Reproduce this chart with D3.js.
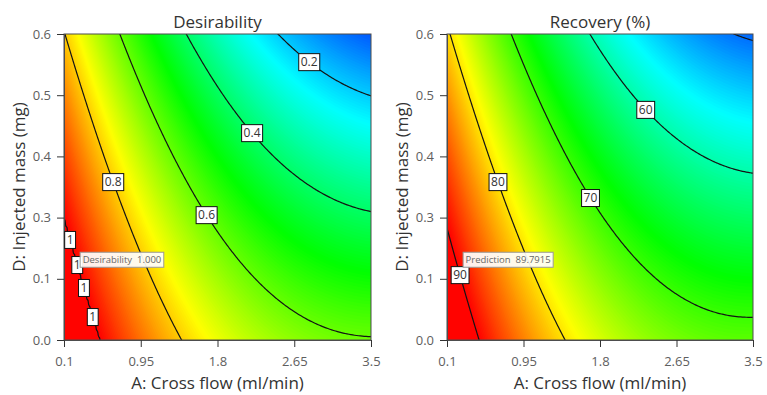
<!DOCTYPE html>
<html>
<head>
<meta charset="utf-8">
<script src="https://cdn.jsdelivr.net/npm/d3@7"></script>
<style>
  html, body { margin: 0; padding: 0; background: #fff; }
  svg { display: block; font-family: "Open Sans", "DejaVu Sans", sans-serif; }
</style>
</head>
<body>
<svg id="chart" width="767" height="395"></svg>
<script>
// ---- data ----------------------------------------------------------------
// Factor A (cross flow, ml/min) axis ticks
const crossFlowTicks = [0.1, 0.95, 1.8, 2.65, 3.5];
// Factor D (injected mass, mg) axis labels, bottom to top
const massTickLabels = ["0.0", "0.1", "0.3", "0.4", "0.5", "0.6"];

// Quadratic response-surface models in coded units (-1..+1):
// [intercept, A, D, AD, A^2, D^2]
const desirabilityCoef = [0.5408, -0.3054, -0.2061, -0.0529, 0.1234, -0.0127];
const recoveryCoef     = [68.49, -13.57, -9.045, -1.96, 6.075, -0.5025];

// Contour levels drawn on each surface
const desirabilityLevels = [0.2, 0.4, 0.6, 0.8, 1];
const recoveryLevels     = [50, 60, 70, 80, 90];

// Optimum (flag) point in coded units [A, D] and its read-outs
const optimumCoded = [-0.96, -0.42];
const desirabilityFlag = ["Desirability", "1.000"];
const recoveryFlag     = ["Prediction", "89.7915"];

// ---- layout --------------------------------------------------------------
const plotTop = 34, plotH = 306;
const rampColors = ["#0000ff", "#00ffff", "#00ff00", "#ffff00", "#ff0000"];

const panels = [
  {
    id: "des", title: "Desirability", left: 64, width: 307,
    coef: desirabilityCoef, levels: desirabilityLevels, cap: 1,
    colorDomain: [0, 1], flag: desirabilityFlag,
    fmt: v => (v === 1 ? "1" : v.toFixed(1)),
    // label placement: level and fractional height along the D axis
    labelSpots: [[0.2, 0.908], [0.4, 0.676], [0.6, 0.408], [0.8, 0.516],
                 [1, 0.327], [1, 0.245], [1, 0.170], [1, 0.075]]
  },
  {
    id: "rec", title: "Recovery (%)", left: 447, width: 306,
    coef: recoveryCoef, levels: recoveryLevels, cap: null,
    colorDomain: [45, 90], flag: recoveryFlag,
    fmt: v => String(v),
    labelSpots: [[60, 0.752], [70, 0.464], [80, 0.516], [90, 0.212]]
  }
];

const svg = d3.select("#chart");
const defs = svg.append("defs");

function quad(c, a, d) {
  return c[0] + c[1] * a + c[2] * d + c[3] * a * d + c[4] * a * a + c[5] * d * d;
}

panels.forEach(p => {
  const W = p.width, H = plotH;
  const g = svg.append("g").attr("transform", `translate(${p.left},${plotTop})`);

  const x  = d3.scaleLinear().domain([0.1, 3.5]).range([0, W]);
  const xc = d3.scaleLinear().domain([-1, 1]).range([0, W]);
  const yc = d3.scaleLinear().domain([-1, 1]).range([H, 0]);
  const yAxisScale = d3.scalePoint().domain(massTickLabels).range([H, 0]);

  const raw = (a, d) => quad(p.coef, a, d);
  const model = (a, d) => { const v = raw(a, d); return p.cap != null ? Math.min(v, p.cap) : v; };

  // sample the surface on a grid that runs a little past the plot frame
  const n = 176, ext = 1.1;
  const values = new Float64Array(n * n);
  for (let j = 0; j < n; j++) {
    const d = ext - 2 * ext * (j + 0.5) / n;
    for (let i = 0; i < n; i++) {
      const a = -ext + 2 * ext * (i + 0.5) / n;
      values[j * n + i] = model(a, d);
    }
  }
  const proj = d3.geoTransform({
    point(gx, gy) { this.stream.point(xc(-ext + 2 * ext * gx / n), yc(ext - 2 * ext * gy / n)); }
  });
  const path = d3.geoPath(proj);

  const clipId = "clip-" + p.id;
  defs.append("clipPath").attr("id", clipId)
    .append("rect").attr("width", W).attr("height", H);

  const [lo, hi] = p.colorDomain;
  const color = d3.scaleLinear()
    .domain(d3.range(5).map(k => lo + k * (hi - lo) / 4))
    .range(rampColors).clamp(true);

  // filled colour bands
  const N = 200, step = (hi - lo) / N;
  const thresholds = d3.range(N).map(k => lo + k * step);
  const bands = d3.contours().size([n, n]).thresholds(thresholds)(values);
  const area = g.append("g").attr("clip-path", `url(#${clipId})`);
  area.append("rect").attr("width", W).attr("height", H).attr("fill", color(lo));
  area.selectAll("path.band").data(bands).join("path")
    .attr("class", "band")
    .attr("d", path)
    .attr("fill", d => color(d.value + step / 2));

  // contour lines
  const lineLevels = p.levels.map(l => (p.cap != null && l >= p.cap ? l - 1e-3 : l));
  const lines = d3.contours().size([n, n]).thresholds(lineLevels)(values);
  area.selectAll("path.iso").data(lines).join("path")
    .attr("class", "iso")
    .attr("d", path)
    .attr("fill", "none")
    .attr("stroke", "#141414")
    .attr("stroke-width", 1.2);

  // frame
  g.append("rect").attr("width", W).attr("height", H)
    .attr("fill", "none").attr("stroke", "#4d4d4d").attr("stroke-width", 1);

  // axes
  const xAxis = g.append("g").attr("transform", `translate(0,${H})`)
    .call(d3.axisBottom(x).tickValues(crossFlowTicks).tickFormat(d => String(d))
      .tickSize(7).tickSizeOuter(0).tickPadding(10));
  const yAxis = g.append("g")
    .call(d3.axisLeft(yAxisScale).tickSize(7).tickSizeOuter(0).tickPadding(6));
  [xAxis, yAxis].forEach(ax => {
    ax.select(".domain").attr("stroke", "#4d4d4d");
    ax.selectAll(".tick line").attr("stroke", "#333");
    ax.selectAll(".tick text").attr("fill", "#5e5e5e").style("font-size", "13px")
      .style("font-family", '"Open Sans", sans-serif');
  });

  // titles
  g.append("text").attr("x", W / 2).attr("y", -6.5).attr("text-anchor", "middle")
    .attr("fill", "#333").style("font-size", "17px").text(p.title);
  g.append("text").attr("x", W / 2).attr("y", H + 49).attr("text-anchor", "middle")
    .attr("fill", "#333").style("font-size", "17px").text("A: Cross flow (ml/min)");
  g.append("text").attr("transform", `translate(-39,${H / 2}) rotate(-90)`)
    .attr("text-anchor", "middle").attr("fill", "#333").style("font-size", "17px")
    .text("D: Injected mass (mg)");

  // contour labels, placed on the line at the requested height
  const labelG = g.append("g");
  p.labelSpots.forEach(([level, frac]) => {
    const d = 2 * frac - 1;
    let aLo = -1, aHi = 1;
    for (let k = 0; k < 50; k++) {
      const m = (aLo + aHi) / 2;
      if (raw(m, d) > level) aLo = m; else aHi = m;
    }
    const cx = xc((aLo + aHi) / 2), cy = yc(d);
    const lg = labelG.append("g").attr("transform", `translate(${cx},${cy})`);
    const t = lg.append("text").attr("text-anchor", "middle").attr("dy", "0.36em")
      .attr("fill", "#333").style("font-size", "12px").text(p.fmt(level));
    const bb = t.node().getBBox();
    lg.insert("rect", "text")
      .attr("x", bb.x - 2).attr("y", -8.5).attr("width", bb.width + 4).attr("height", 17)
      .attr("fill", "#fff").attr("stroke", "#111").attr("stroke-width", 1);
  });

  // flag box at the optimum
  const fx = xc(optimumCoded[0]) + 10, fy = yc(optimumCoded[1]) + 1;
  const fg = g.append("g").attr("transform", `translate(${fx},${fy})`);
  const ft = fg.append("text").attr("x", 2.5).attr("y", 10.5)
    .attr("fill", "#666").style("font-size", "9.5px").style("white-space", "pre")
    .text(p.flag[0] + "  " + p.flag[1]);
  const fb = ft.node().getBBox();
  fg.insert("rect", "text").attr("x", 0).attr("y", 0)
    .attr("width", fb.width + 5).attr("height", 15)
    .attr("fill", "#fff").attr("fill-opacity", 0.92)
    .attr("stroke", "#999").attr("stroke-width", 1);
});
</script>
</body>
</html>
